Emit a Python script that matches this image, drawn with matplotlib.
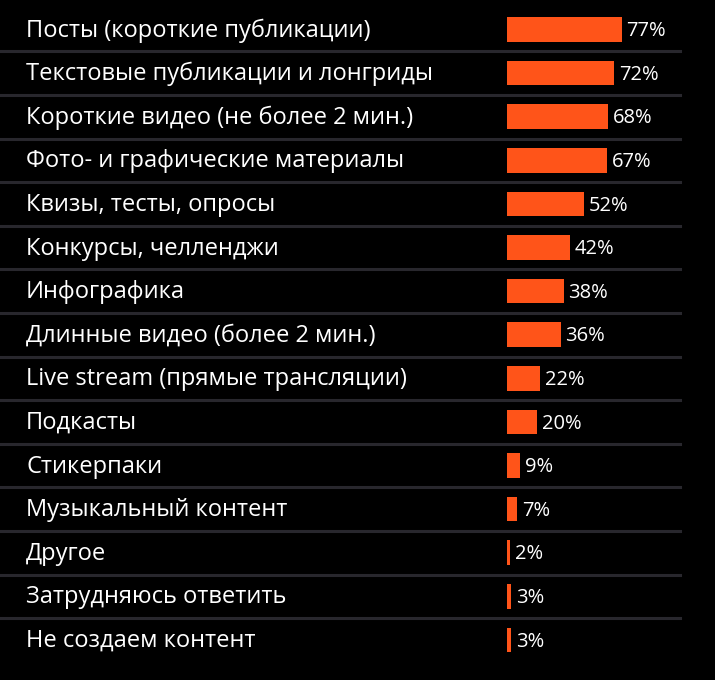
import matplotlib
matplotlib.use('Agg')
import matplotlib.pyplot as plt
import matplotlib.transforms as mtransforms

# categories and shares (%)
labels = [
    "Посты (короткие публикации)",
    "Текстовые публикации и лонгриды",
    "Короткие видео (не более 2 мин.)",
    "Фото- и графические материалы",
    "Квизы, тесты, опросы",
    "Конкурсы, челленджи",
    "Инфографика",
    "Длинные видео (более 2 мин.)",
    "Live stream (прямые трансляции)",
    "Подкасты",
    "Стикерпаки",
    "Музыкальный контент",
    "Другое",
    "Затрудняюсь ответить",
    "Не создаем контент",
]
values = [77, 72, 68, 67, 52, 42, 38, 36, 22, 20, 9, 7, 2, 3, 3]

plt.rcParams['font.family'] = ['Open Sans', 'DejaVu Sans']

W, H = 715, 680
fig = plt.figure(figsize=(W / 100, H / 100), dpi=100, facecolor='black')
ax = fig.add_axes([0, 0, 1, 1])
ax.set_facecolor('black')

# pixel scale of the reference
x0 = 507      # bar origin (px)
ppu = 1.49    # px per percent
y0 = 29.5     # first row centre (px)
step = 43.6   # row spacing (px)

ax.set_xlim(-x0 / ppu, (W - x0) / ppu)
ax.set_ylim((H - y0) / step, -y0 / step)

ys = list(range(len(labels)))
ax.barh(ys, values, height=0.56, color='#ff5419', left=0)

lab_tr = mtransforms.blended_transform_factory(fig.transFigure, ax.transData)
for y, lab, v in zip(ys, labels, values):
    ax.text(26 / W, y + 0.165, lab, transform=lab_tr, color='white',
            fontsize=17, va='baseline', ha='left')
    ax.text(v + 3.2, y + 0.155, f"{v}%", color='white', fontsize=14.5,
            va='baseline', ha='left')

for i in range(len(labels) - 1):
    ax.axhline(i + 0.5, xmin=0, xmax=680 / W, color='#28272d', lw=2.2)

ax.axis('off')
fig.savefig('out.png', dpi=100, facecolor='black')
